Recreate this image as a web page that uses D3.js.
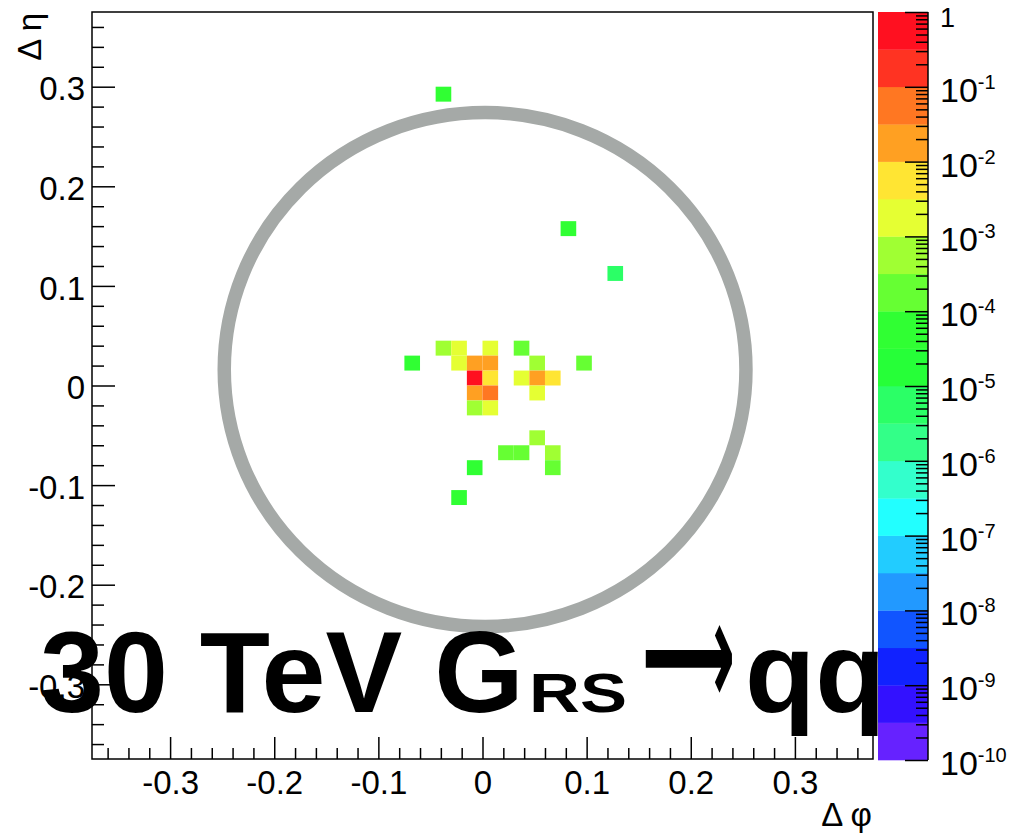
<!DOCTYPE html>
<html><head><meta charset="utf-8">
<script src="https://cdn.jsdelivr.net/npm/d3@7"></script>
<style>body{margin:0;background:#fff}svg{display:block}</style>
</head><body>
<script>
// ---- data ----
const binWidth = 0.015;
const cellPhi = [-0.0375, 0.0825, 0.1275, -0.0375, -0.0225, 0.0075, 0.0375, -0.0675, -0.0225, -0.0075,
                 0.0075, 0.0525, 0.0975, -0.0075, 0.0075, 0.0375, 0.0525, 0.0675, -0.0075, 0.0075,
                 0.0525, -0.0075, 0.0075, 0.0525, 0.0225, 0.0375, 0.0675, -0.0075, 0.0675, -0.0225];
const cellEta = [0.2925, 0.1575, 0.1125, 0.0375, 0.0375, 0.0375, 0.0375, 0.0225, 0.0225, 0.0225,
                 0.0225, 0.0225, 0.0225, 0.0075, 0.0075, 0.0075, 0.0075, 0.0075, -0.0075, -0.0075,
                 -0.0075, -0.0225, -0.0225, -0.0525, -0.0675, -0.0675, -0.0675, -0.0825, -0.0825, -0.1125];
const cellVal = [5.3e-5, 6.0e-5, 6.5e-6, 6.2e-4, 1.6e-3, 1.9e-3, 2.1e-4, 4.8e-5, 2.2e-3, 0.021,
                 0.016, 5.1e-4, 1.9e-4, 0.52, 6.3e-3, 1.5e-3, 0.019, 5.4e-3, 0.017, 0.048,
                 2.0e-3, 5.6e-4, 1.7e-3, 5.8e-4, 1.8e-4, 1.7e-4, 4.9e-4, 5.5e-5, 2.3e-4, 5.0e-5];
const axisTicks = [-0.3, -0.2, -0.1, 0, 0.1, 0.2, 0.3];
const axisTickLabels = ["-0.3", "-0.2", "-0.1", "0", "0.1", "0.2", "0.3"];
const zDecadeExp = [0, -1, -2, -3, -4, -5, -6, -7, -8, -9, -10];
const paletteColors = ["#6622ff", "#3311ff", "#1122ff", "#1155ff", "#2299ff", "#22ccff", "#22ffff", "#33ffcc",
                       "#33ff88", "#2bff66", "#26ff38", "#30ff33", "#66ff33", "#a0ff33", "#e5ff33", "#ffe533",
                       "#ffa022", "#ff7722", "#ff3322", "#ff1020"];
const coneCenter = [0.0025, 0.016];
const coneRadius = [0.2505, 0.258];
const titleMain = "30 TeV G", titleSub = "RS", titleArrow = "\u27f6", titleEnd = "qq";

// ---- layout ----
const W = 1011, H = 834;
const plot = {l: 92, r: 873, t: 12, b: 759};
const bar = {l: 878, r: 928, t: 12, b: 760};
const font = "'Liberation Sans', Arial, Helvetica, sans-serif";
const fs = 33;

const svg = d3.select("body").append("svg").attr("width", W).attr("height", H);
const x = d3.scaleLinear().domain([-0.375, 0.375]).range([plot.l, plot.r]);
const y = d3.scaleLinear().domain([-0.375, 0.375]).range([plot.b, plot.t]);
const z = d3.scaleLog().domain([1e-10, 1]).range([bar.b, bar.t]);
const colorOf = d3.scaleQuantize().domain([-10, 0]).range(paletteColors);

// cells
const cells = cellVal.map((v, i) => ({phi: cellPhi[i], eta: cellEta[i], v}));
svg.append("g").selectAll("rect").data(cells).join("rect")
  .attr("x", d => x(d.phi - binWidth / 2))
  .attr("y", d => y(d.eta + binWidth / 2))
  .attr("width", d => x(d.phi + binWidth / 2) - x(d.phi - binWidth / 2))
  .attr("height", d => y(d.eta - binWidth / 2) - y(d.eta + binWidth / 2))
  .attr("fill", d => colorOf(Math.log10(d.v)));

// cone circle
svg.append("ellipse")
  .attr("cx", x(coneCenter[0])).attr("cy", y(coneCenter[1]))
  .attr("rx", x(coneCenter[0] + coneRadius[0]) - x(coneCenter[0]))
  .attr("ry", y(coneCenter[1]) - y(coneCenter[1] + coneRadius[1]))
  .attr("fill", "none").attr("stroke", "#a5a9a7").attr("stroke-width", 13.5);

// frame
svg.append("rect").attr("x", plot.l).attr("y", plot.t)
  .attr("width", plot.r - plot.l).attr("height", plot.b - plot.t)
  .attr("fill", "none").attr("stroke", "#000").attr("stroke-width", 1.5);

// axes
const minorTicks = d3.range(-18, 19).map(i => i * 0.02).filter(v => Math.abs(Math.round(v * 10) - v * 10) > 1e-6);
function styleAxis(g) {
  g.select(".domain").remove();
  g.selectAll("line").attr("stroke", "#000").attr("stroke-width", 1.5);
  g.selectAll("text").attr("font-family", font).attr("font-size", fs).attr("fill", "#000");
}
svg.append("g").attr("transform", `translate(${plot.l},0)`)
  .call(d3.axisLeft(y).tickValues(axisTicks).tickSizeInner(-23).tickSizeOuter(0).tickPadding(7)
        .tickFormat((d, i) => axisTickLabels[i]))
  .call(styleAxis)
  .call(g => g.selectAll("text").attr("dy", "0.4em"));
svg.append("g").attr("transform", `translate(${plot.l},0)`)
  .call(d3.axisLeft(y).tickValues(minorTicks).tickSizeInner(-12).tickSizeOuter(0).tickFormat(""))
  .call(styleAxis);
svg.append("g").attr("transform", `translate(0,${plot.b})`)
  .call(d3.axisBottom(x).tickValues(axisTicks).tickSizeInner(-22).tickSizeOuter(0).tickPadding(12)
        .tickFormat((d, i) => axisTickLabels[i]))
  .call(styleAxis)
  .call(g => g.selectAll("text").attr("dy", "0.71em"));
svg.append("g").attr("transform", `translate(0,${plot.b})`)
  .call(d3.axisBottom(x).tickValues(minorTicks).tickSizeInner(-11).tickSizeOuter(0).tickFormat(""))
  .call(styleAxis);

// axis titles
svg.append("text").attr("transform", `translate(41,13) rotate(-90)`)
  .attr("text-anchor", "end").attr("font-family", font).attr("font-size", fs).text("\u0394 \u03b7");
svg.append("text").attr("x", 872).attr("y", 826)
  .attr("text-anchor", "end").attr("font-family", font).attr("font-size", fs).text("\u0394 \u03c6");

// title
const tfont = font;
svg.append("text").attr("x", 40).attr("y", 712).attr("font-family", tfont).attr("font-weight", "bold")
  .attr("font-size", 115).text(titleMain);
svg.append("text").attr("x", 529).attr("y", 712).attr("font-family", tfont).attr("font-weight", "bold")
  .attr("font-size", 56).attr("textLength", 98).attr("lengthAdjust", "spacingAndGlyphs").text(titleSub);
svg.append("text").attr("x", 642).attr("y", 706).attr("font-family", "'DejaVu Sans', sans-serif").attr("font-weight", "bold")
  .attr("font-size", 150).attr("textLength", 93).attr("lengthAdjust", "spacingAndGlyphs").text(titleArrow);
svg.append("text").attr("x", 745).attr("y", 712).attr("font-family", tfont).attr("font-weight", "bold")
  .attr("font-size", 115).text(titleEnd);

// color bar
const bands = paletteColors.map((c, i) => ({lo: -10 + i * 0.5, hi: -10 + (i + 1) * 0.5, c}));
svg.append("g").selectAll("rect").data(bands).join("rect")
  .attr("x", bar.l).attr("width", bar.r - bar.l)
  .attr("y", d => z(Math.pow(10, d.hi)))
  .attr("height", d => z(Math.pow(10, d.lo)) - z(Math.pow(10, d.hi)) + 0.3)
  .attr("fill", d => d.c);
svg.append("line").attr("x1", bar.r).attr("x2", bar.r).attr("y1", bar.t).attr("y2", bar.b)
  .attr("stroke", "#000").attr("stroke-width", 1.5);
const zMajor = zDecadeExp.map(e => Math.pow(10, e));
const zMinor = [];
zDecadeExp.slice(1).forEach(e => { for (let k = 2; k <= 9; k++) zMinor.push(k * Math.pow(10, e)); });
svg.append("g").attr("transform", `translate(${bar.r},0)`)
  .call(d3.axisRight(z).tickValues(zMajor).tickSizeInner(-23).tickSizeOuter(0).tickFormat(""))
  .call(styleAxis);
svg.append("g").attr("transform", `translate(${bar.r},0)`)
  .call(d3.axisRight(z).tickValues(zMinor).tickSizeInner(-12).tickSizeOuter(0).tickFormat(""))
  .call(styleAxis);
const zl = svg.append("g").selectAll("text").data(zDecadeExp).join("text")
  .attr("x", 940).attr("y", e => z(Math.pow(10, e)) + 15)
  .attr("font-family", font).attr("font-size", e => e === 0 ? 27 : fs + 1).attr("fill", "#000");
zl.each(function(e) {
  const t = d3.select(this);
  if (e === 0) { t.text("1"); return; }
  t.append("tspan").text("10");
  t.append("tspan").attr("font-size", 20).attr("dy", -13).text(String(e));
});
</script>
</body></html>
